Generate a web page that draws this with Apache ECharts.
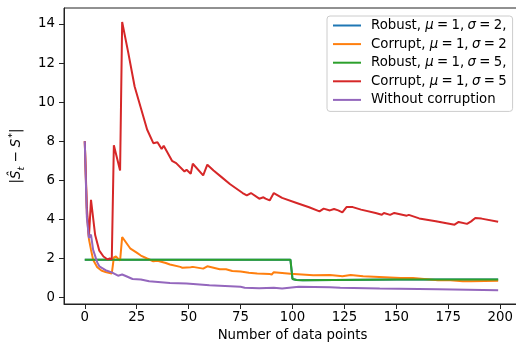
<!DOCTYPE html>
<html><head><meta charset="utf-8">
<script src="https://cdn.jsdelivr.net/npm/echarts@6/dist/echarts.min.js"></script>
<style>html,body{margin:0;padding:0;background:#fff}#c{width:516px;height:349px}</style>
</head><body><div id="c"></div>
<script>
const xTicks = [0, 25, 50, 75, 100, 125, 150, 175, 200];
const yTicks = [0, 2, 4, 6, 8, 10, 12, 14];
const seriesNames = ['Robust, mu=1, sigma=2,', 'Corrupt, mu=1, sigma=2', 'Robust, mu=1, sigma=5,', 'Corrupt, mu=1, sigma=5', 'Without corruption'];
const xAxisTitle = 'Number of data points';

const robust2 = [[0,1.94],[99,1.94],[100,0.95],[102,0.9],[105,0.88],[120,0.9],[150,0.92],[199,0.92]];
const corrupt2 = [[0,8.0],[1,4.3],[2,3.0],[3,2.45],[4,1.94],[6,1.55],[8,1.38],[10,1.31],[13,1.23],[14,2.05],[15,2.1],[17,1.89],[18,3.1],[22,2.5],[25,2.3],[27,2.15],[30,2.0],[33,1.86],[35,1.88],[39,1.77],[41,1.69],[46,1.57],[47,1.52],[51,1.55],[52,1.57],[57,1.48],[59,1.6],[65,1.45],[68,1.45],[71,1.36],[75,1.33],[79,1.27],[83,1.23],[89,1.2],[90,1.18],[91,1.3],[99,1.22],[110,1.14],[118,1.15],[123,1.1],[124,1.09],[128,1.16],[134,1.09],[152,1.0],[158,1.0],[170,0.89],[176,0.88],[182,0.83],[186,0.83],[199,0.86]];
const robust5 = [[0,1.94],[99,1.94],[100,0.95],[102,0.9],[105,0.88],[120,0.9],[150,0.92],[199,0.92]];
const corrupt5 = [[0,8.0],[1,4.6],[2,3.1],[3,5.0],[5,3.2],[7,2.4],[9,2.1],[11,1.95],[12,2.0],[13,1.95],[14,7.8],[17,6.5],[18,14.1],[21,12.5],[24,10.8],[27,9.7],[30,8.6],[33,7.9],[35,7.95],[37,7.6],[38,7.77],[42,7.0],[44,6.88],[48,6.45],[49,6.54],[51,6.34],[52,6.85],[57,6.25],[59,6.8],[62,6.5],[66,6.15],[70,5.8],[76,5.35],[78,5.23],[80,5.35],[84,5.06],[86,5.13],[87,5.06],[89,4.97],[91,5.35],[95,5.1],[102,4.84],[108,4.62],[113,4.41],[115,4.55],[118,4.46],[120,4.53],[122,4.46],[124,4.36],[126,4.63],[129,4.63],[133,4.5],[140,4.33],[143,4.24],[144,4.33],[147,4.23],[149,4.33],[155,4.19],[156,4.23],[161,4.05],[169,3.9],[178,3.73],[180,3.87],[184,3.77],[186,3.9],[188,4.07],[191,4.04],[199,3.88]];
const clean = [[0,8.0],[1,4.1],[2,3.05],[3,3.22],[4,2.45],[6,1.8],[7,1.6],[10,1.4],[13,1.29],[16,1.12],[18,1.18],[20,1.09],[23,0.95],[27,0.92],[31,0.83],[41,0.75],[49,0.72],[60,0.63],[75,0.55],[77,0.5],[84,0.47],[91,0.5],[95,0.46],[103,0.55],[118,0.53],[123,0.5],[142,0.46],[170,0.42],[199,0.37]];

const colors = ['#1f77b4', '#ff7f0e', '#2ca02c', '#d62728', '#9467bd'];
const FONT = 'DejaVu Sans';
const FS = 13.3;
const legendRich = {
  '0': '{n|Robust, }{i|μ}{n|\u2005=\u20051,\u2005}{i|σ}{n|\u2005=\u20052,}',
  '1': '{n|Corrupt, }{i|μ}{n|\u2005=\u20051,\u2005}{i|σ}{n|\u2005=\u20052}',
  '2': '{n|Robust, }{i|μ}{n|\u2005=\u20051,\u2005}{i|σ}{n|\u2005=\u20055,}',
  '3': '{n|Corrupt, }{i|μ}{n|\u2005=\u20051,\u2005}{i|σ}{n|\u2005=\u20055}',
  '4': '{n|Without corruption}'
};
const dataList = [robust2, corrupt2, robust5, corrupt5, clean];

const chart = echarts.init(document.getElementById('c'), null, {renderer: 'canvas'});
chart.setOption({
  animation: false,
  backgroundColor: '#fff',
  grid: {left: 64, top: 8, width: 457, height: 296, containLabel: false, outerBoundsMode: 'none',
    show: true, borderColor: '#222', borderWidth: 1, backgroundColor: 'transparent'},
  xAxis: {
    type: 'value', min: -10, max: 210,
    name: xAxisTitle, nameLocation: 'middle', nameGap: 25,
    nameTextStyle: {fontFamily: FONT, fontSize: FS, color: '#000'},
    axisLine: {show: true, onZero: false, lineStyle: {color: '#222', width: 1}},
    axisTick: {show: true, length: 5, customValues: xTicks, lineStyle: {color: '#222'}},
    axisLabel: {customValues: xTicks, margin: 7, fontFamily: FONT, fontSize: FS, color: '#000'},
    splitLine: {show: false}
  },
  yAxis: {
    type: 'value', min: -0.33, max: 14.82,
    name: '{n||}{i|Ŝ}{sub|t}{n| − }{i|S}{sup|*}{n||}', nameLocation: 'middle', nameRotate: 90, nameGap: 34,
    nameTextStyle: {fontFamily: FONT, fontSize: FS, color: '#000',
      rich: {
        n: {fontFamily: FONT, fontSize: FS, color: '#000', lineHeight: 22, verticalAlign: 'middle'},
        i: {fontFamily: FONT, fontSize: FS, fontStyle: 'italic', color: '#000', lineHeight: 22, verticalAlign: 'middle'},
        sub: {fontFamily: FONT, fontSize: 9.5, fontStyle: 'italic', color: '#000', lineHeight: 22, verticalAlign: 'bottom', padding: [0,0,1,0]},
        sup: {fontFamily: FONT, fontSize: 9.5, color: '#000', lineHeight: 22, verticalAlign: 'top', padding: [2,0,0,1]}
      }},
    axisLine: {show: true, onZero: false, lineStyle: {color: '#222', width: 1}},
    axisTick: {show: true, length: 5, customValues: yTicks, lineStyle: {color: '#222'}},
    axisLabel: {customValues: yTicks, margin: 9, fontFamily: FONT, fontSize: FS, color: '#000'},
    splitLine: {show: false}
  },
  legend: {
    left: 327, top: 16, orient: 'vertical',
    data: seriesNames.map((nm, k) => ({name: nm, icon: 'rect', itemStyle: {color: colors[k], opacity: 1}})),
    itemWidth: 28, itemHeight: 2, itemGap: 5.6,
    padding: [3, 6, 5, 6],
    backgroundColor: 'rgba(255,255,255,0.85)', borderColor: '#cccccc', borderWidth: 1, borderRadius: 3,
    formatter: function (name) { return legendRich[String(seriesNames.indexOf(name))]; },
    textStyle: {fontFamily: FONT, fontSize: FS, color: '#000', padding: [0,0,0,5],
      rich: {
        n: {fontFamily: FONT, fontSize: FS, color: '#000', lineHeight: 16},
        i: {fontFamily: FONT, fontSize: FS, fontStyle: 'italic', color: '#000', lineHeight: 16}
      }}
  },
  series: seriesNames.map((nm, k) => ({
    name: nm, type: 'line', data: dataList[k], symbol: 'none', showSymbol: false,
    lineStyle: {color: colors[k], width: 2}, itemStyle: {color: colors[k]},
    z: 2 + k, clip: true
  }))
});
</script></body></html>
